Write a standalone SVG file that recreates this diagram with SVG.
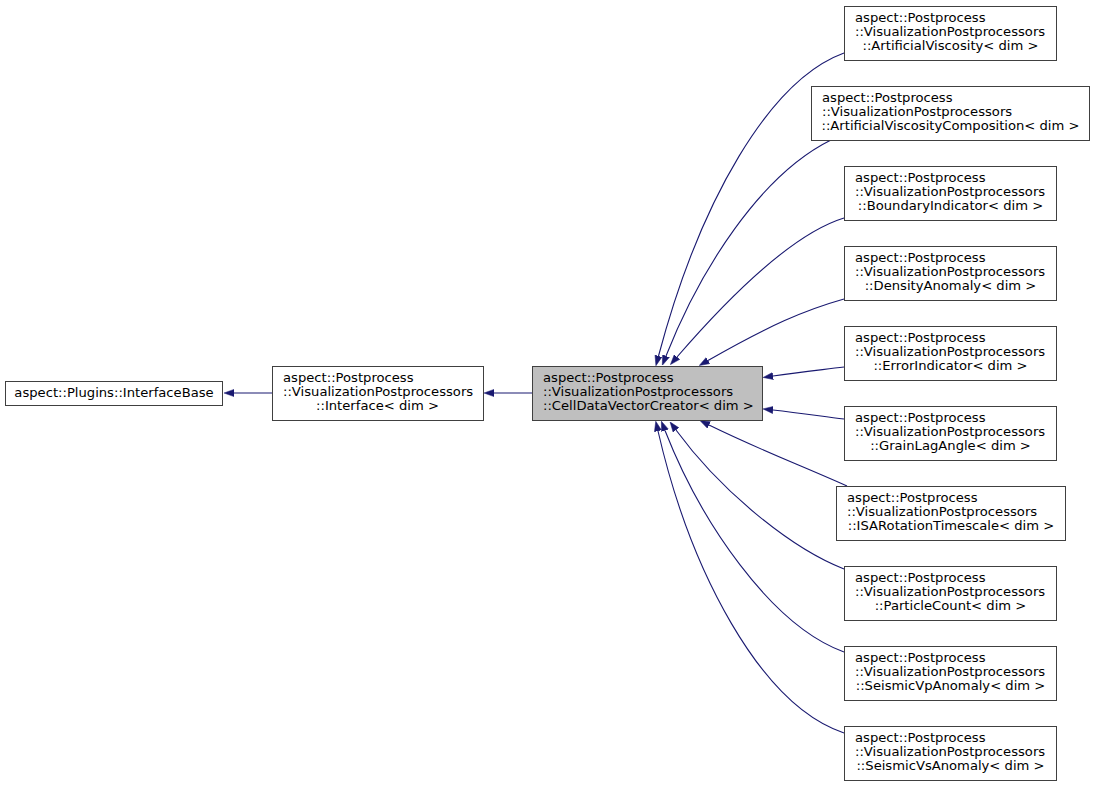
<svg xmlns="http://www.w3.org/2000/svg" width="1096" height="787" viewBox="0 0 1096 787">
<style>
.box{fill:#ffffff;stroke:#404040;stroke-width:1}
.hl{fill:#bfbfbf;stroke:#404040;stroke-width:1}
text{font-family:"DejaVu Sans","Liberation Sans",sans-serif;font-size:13.15px;fill:#000}
.c{text-anchor:middle}
.e{fill:none;stroke:#191970;stroke-width:1.1}
</style>
<defs>
<marker id="ah" markerUnits="userSpaceOnUse" markerWidth="10" markerHeight="8" viewBox="0 0 10 8" refX="0" refY="4" orient="auto">
<path d="M0,0.4 L10,4 L0,7.6 z" fill="#191970" stroke="#191970" stroke-width="0.5"/>
</marker>
</defs>
<rect width="1096" height="787" fill="#ffffff"/>
<g id="connectors">
<path class="e" marker-end="url(#ah)" d="M272,393 L234,393"/>
<path class="e" marker-end="url(#ah)" d="M532,393 L494,393"/>
<path class="e" marker-end="url(#ah)" d="M844,53 C770,80 700,200 658.5,356"/>
<path class="e" marker-end="url(#ah)" d="M831,140 C760,175 700,270 666,356"/>
<path class="e" marker-end="url(#ah)" d="M844,218 C795,233 735,290 677,357"/>
<path class="e" marker-end="url(#ah)" d="M844,299 C805,310 770,325 708,360.5"/>
<path class="e" marker-end="url(#ah)" d="M844,367 C820,370 800,372 773,376"/>
<path class="e" marker-end="url(#ah)" d="M844,419 C820,416 800,413 773,410"/>
<path class="e" marker-end="url(#ah)" d="M847,486 C800,465 760,450 709,425"/>
<path class="e" marker-end="url(#ah)" d="M844,569 C790,548 720,490 676,430"/>
<path class="e" marker-end="url(#ah)" d="M844,652 C770,625 700,520 665,430.5"/>
<path class="e" marker-end="url(#ah)" d="M844,733 C760,705 690,570 658,431"/>
</g>
<g id="InterfaceBase">
<rect class="box" x="5.5" y="381.5" width="217" height="24"/>
<text class="c" x="114" y="397">aspect::Plugins::InterfaceBase</text>
</g>
<g id="Interface">
<rect class="box" x="272.5" y="366.5" width="211" height="54"/>
<text x="283" y="382">aspect::Postprocess</text>
<text x="283" y="396">::VisualizationPostprocessors</text>
<text class="c" x="377.5" y="410">::Interface&lt; dim &gt;</text>
</g>
<g id="CellDataVectorCreator">
<rect class="hl" x="532.5" y="366.5" width="230" height="54"/>
<text x="543" y="382">aspect::Postprocess</text>
<text x="543" y="396">::VisualizationPostprocessors</text>
<text x="543" y="410">::CellDataVectorCreator&lt; dim &gt;</text>
</g>
<g id="ArtificialViscosity">
<rect class="box" x="844.5" y="6.5" width="212" height="54"/>
<text x="855" y="22">aspect::Postprocess</text>
<text x="855" y="36">::VisualizationPostprocessors</text>
<text class="c" x="950.5" y="50">::ArtificialViscosity&lt; dim &gt;</text>
</g>
<g id="ArtificialViscosityComposition">
<rect class="box" x="811.5" y="86.5" width="278" height="54"/>
<text x="822" y="102">aspect::Postprocess</text>
<text x="822" y="116">::VisualizationPostprocessors</text>
<text class="c" x="950.5" y="130">::ArtificialViscosityComposition&lt; dim &gt;</text>
</g>
<g id="BoundaryIndicator">
<rect class="box" x="844.5" y="166.5" width="212" height="54"/>
<text x="855" y="182">aspect::Postprocess</text>
<text x="855" y="196">::VisualizationPostprocessors</text>
<text class="c" x="950.5" y="210">::BoundaryIndicator&lt; dim &gt;</text>
</g>
<g id="DensityAnomaly">
<rect class="box" x="844.5" y="246.5" width="212" height="54"/>
<text x="855" y="262">aspect::Postprocess</text>
<text x="855" y="276">::VisualizationPostprocessors</text>
<text class="c" x="950.5" y="290">::DensityAnomaly&lt; dim &gt;</text>
</g>
<g id="ErrorIndicator">
<rect class="box" x="844.5" y="326.5" width="212" height="54"/>
<text x="855" y="342">aspect::Postprocess</text>
<text x="855" y="356">::VisualizationPostprocessors</text>
<text class="c" x="950.5" y="370">::ErrorIndicator&lt; dim &gt;</text>
</g>
<g id="GrainLagAngle">
<rect class="box" x="844.5" y="406.5" width="212" height="54"/>
<text x="855" y="422">aspect::Postprocess</text>
<text x="855" y="436">::VisualizationPostprocessors</text>
<text class="c" x="950.5" y="450">::GrainLagAngle&lt; dim &gt;</text>
</g>
<g id="ISARotationTimescale">
<rect class="box" x="836.5" y="486.5" width="229" height="54"/>
<text x="847" y="502">aspect::Postprocess</text>
<text x="847" y="516">::VisualizationPostprocessors</text>
<text class="c" x="951" y="530">::ISARotationTimescale&lt; dim &gt;</text>
</g>
<g id="ParticleCount">
<rect class="box" x="844.5" y="566.5" width="212" height="54"/>
<text x="855" y="582">aspect::Postprocess</text>
<text x="855" y="596">::VisualizationPostprocessors</text>
<text class="c" x="950.5" y="610">::ParticleCount&lt; dim &gt;</text>
</g>
<g id="SeismicVpAnomaly">
<rect class="box" x="844.5" y="646.5" width="212" height="54"/>
<text x="855" y="662">aspect::Postprocess</text>
<text x="855" y="676">::VisualizationPostprocessors</text>
<text class="c" x="950.5" y="690">::SeismicVpAnomaly&lt; dim &gt;</text>
</g>
<g id="SeismicVsAnomaly">
<rect class="box" x="844.5" y="726.5" width="212" height="54"/>
<text x="855" y="742">aspect::Postprocess</text>
<text x="855" y="756">::VisualizationPostprocessors</text>
<text class="c" x="950.5" y="770">::SeismicVsAnomaly&lt; dim &gt;</text>
</g>
</svg>
